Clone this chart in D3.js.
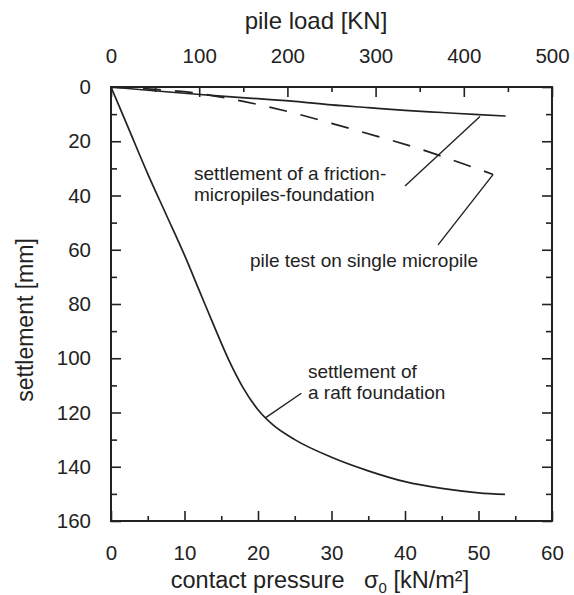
<!DOCTYPE html>
<html>
<head>
<meta charset="utf-8">
<script src="https://cdn.jsdelivr.net/npm/d3@7"></script>
<style>
  html, body { margin: 0; padding: 0; background: #fff; }
  svg text { font-family: "Liberation Sans", Arial, sans-serif; fill: #222; }
</style>
</head>
<body>
<div id="chart"></div>
<script>
// settlement of a raft foundation: contact pressure [kN/m2] -> settlement [mm]
const raftPressure   = [0, 2.5, 5, 7.5, 10, 12, 14, 16, 18, 20, 22, 25, 30, 35, 40, 45, 50, 53.6];
const raftSettlement = [0, 16, 32, 47, 62, 75, 88, 100.5, 111, 119, 124.5, 130, 136.5, 141.5, 145.5, 148, 149.6, 150.2];

// settlement of a friction-micropiles-foundation
const frictionPressure   = [0, 5, 10, 15, 20, 25, 30, 35, 40, 45, 50, 53.7];
const frictionSettlement = [0, 1.2, 2.3, 3.4, 4.3, 5.3, 6.6, 7.6, 8.6, 9.4, 10.2, 10.7];

// pile test on single micropile: pile load [kN] -> settlement [mm]
const pileLoad       = [0, 50, 100, 150, 200, 250, 300, 350, 400, 433];
const pileSettlement = [0, 0.9, 2.4, 5.3, 9.0, 13.4, 18.0, 22.8, 28.4, 32.2];

const pressureTicks = [0, 10, 20, 30, 40, 50, 60];
const loadTicks = [0, 100, 200, 300, 400, 500];
const settlementTicks = [0, 20, 40, 60, 80, 100, 120, 140, 160];

// annotations, in (contact pressure, settlement) units
const notes = [
  { lines: ['settlement of a friction-', 'micropiles-foundation'], at: [11.3, 34.3], from: [40.0, 36.5], to: [50.2, 10.9] },
  { lines: ['pile test on single micropile'], at: [18.9, 66.2], from: [44.5, 58.2], to: [52.0, 32.2] },
  { lines: ['settlement of', 'a raft foundation'], at: [26.8, 107.4], from: [25.9, 112.9], to: [20.95, 122.1] }
];

const width = 574, height = 595;
const margin = { top: 87, right: 22, bottom: 74, left: 111 };
const innerW = width - margin.left - margin.right;
const innerH = height - margin.top - margin.bottom;
const ink = '#222';

const svg = d3.select('#chart').append('svg')
  .attr('width', width)
  .attr('height', height);

const g = svg.append('g').attr('transform', `translate(${margin.left},${margin.top})`);

const x = d3.scaleLinear().domain([0, 60]).range([0, innerW]);
const xTop = d3.scaleLinear().domain([0, 500]).range([0, innerW]);
const y = d3.scaleLinear().domain([0, 160]).range([0, innerH]);

function styleAxis(sel) {
  sel.select('.domain').remove();
  sel.selectAll('line').attr('stroke', ink).attr('stroke-width', 1.6);
  sel.selectAll('text').attr('font-size', 20.5).attr('fill', ink)
    .style('font-family', '"Liberation Sans", Arial, sans-serif');
}

// minor ticks
g.append('g').attr('transform', `translate(0,${innerH})`)
  .call(d3.axisBottom(x).tickValues(d3.range(5, 60, 10)).tickSize(-5).tickFormat(''))
  .call(styleAxis);
g.append('g')
  .call(d3.axisTop(xTop).tickValues(d3.range(50, 500, 100)).tickSize(-5).tickFormat(''))
  .call(styleAxis);
g.append('g')
  .call(d3.axisLeft(y).tickValues(d3.range(10, 160, 20)).tickSize(-6).tickFormat(''))
  .call(styleAxis);
g.append('g').attr('transform', `translate(${innerW},0)`)
  .call(d3.axisRight(y).tickValues(d3.range(10, 160, 20)).tickSize(-6).tickFormat(''))
  .call(styleAxis);

// major ticks with labels
g.append('g').attr('transform', `translate(0,${innerH})`)
  .call(d3.axisBottom(x).tickValues(pressureTicks).tickSize(-10).tickPadding(24))
  .call(styleAxis);
g.append('g')
  .call(d3.axisTop(xTop).tickValues(loadTicks).tickSize(-10).tickPadding(24))
  .call(styleAxis);
g.append('g')
  .call(d3.axisLeft(y).tickValues(settlementTicks).tickSize(-10).tickPadding(20))
  .call(styleAxis);
g.append('g').attr('transform', `translate(${innerW},0)`)
  .call(d3.axisRight(y).tickValues(settlementTicks).tickSize(-10).tickFormat(''))
  .call(styleAxis);

// frame
g.append('rect')
  .attr('width', innerW).attr('height', innerH)
  .attr('fill', 'none').attr('stroke', ink).attr('stroke-width', 2);

// curves
const pressureLine = d3.line()
  .x(d => x(d[0])).y(d => y(d[1]))
  .curve(d3.curveMonotoneX);
const loadLine = d3.line()
  .x(d => xTop(d[0])).y(d => y(d[1]))
  .curve(d3.curveMonotoneX);

g.append('path')
  .datum(d3.zip(raftPressure, raftSettlement))
  .attr('d', pressureLine)
  .attr('fill', 'none').attr('stroke', ink).attr('stroke-width', 1.7);

g.append('path')
  .datum(d3.zip(frictionPressure, frictionSettlement))
  .attr('d', pressureLine)
  .attr('fill', 'none').attr('stroke', ink).attr('stroke-width', 1.7);

g.append('path')
  .datum(d3.zip(pileLoad, pileSettlement))
  .attr('d', loadLine)
  .attr('fill', 'none').attr('stroke', ink).attr('stroke-width', 1.7)
  .attr('stroke-dasharray', '18 14');

// annotations
notes.forEach(n => {
  g.append('line')
    .attr('x1', x(n.from[0])).attr('y1', y(n.from[1]))
    .attr('x2', x(n.to[0])).attr('y2', y(n.to[1]))
    .attr('stroke', ink).attr('stroke-width', 1.4);
  const t = g.append('text')
    .attr('x', x(n.at[0])).attr('y', y(n.at[1]))
    .attr('font-size', 19);
  n.lines.forEach((l, i) => {
    t.append('tspan').attr('x', x(n.at[0])).attr('dy', i === 0 ? 0 : 21).text(l);
  });
});

// axis titles
svg.append('text')
  .attr('x', 316).attr('y', 29)
  .attr('text-anchor', 'middle')
  .attr('font-size', 24)
  .text('pile load [KN]');

const bottomTitle = svg.append('text')
  .attr('x', 320).attr('y', 588)
  .attr('text-anchor', 'middle')
  .attr('font-size', 23.5)
  .attr('xml:space', 'preserve');
bottomTitle.append('tspan').text('contact pressure   σ');
bottomTitle.append('tspan').attr('font-size', 15).attr('dy', 5).text('0');
bottomTitle.append('tspan').attr('dy', -5).text(' [kN/m²]');

svg.append('text')
  .attr('transform', 'translate(33,320) rotate(-90)')
  .attr('text-anchor', 'middle')
  .attr('font-size', 23)
  .text('settlement [mm]');
</script>
</body>
</html>
